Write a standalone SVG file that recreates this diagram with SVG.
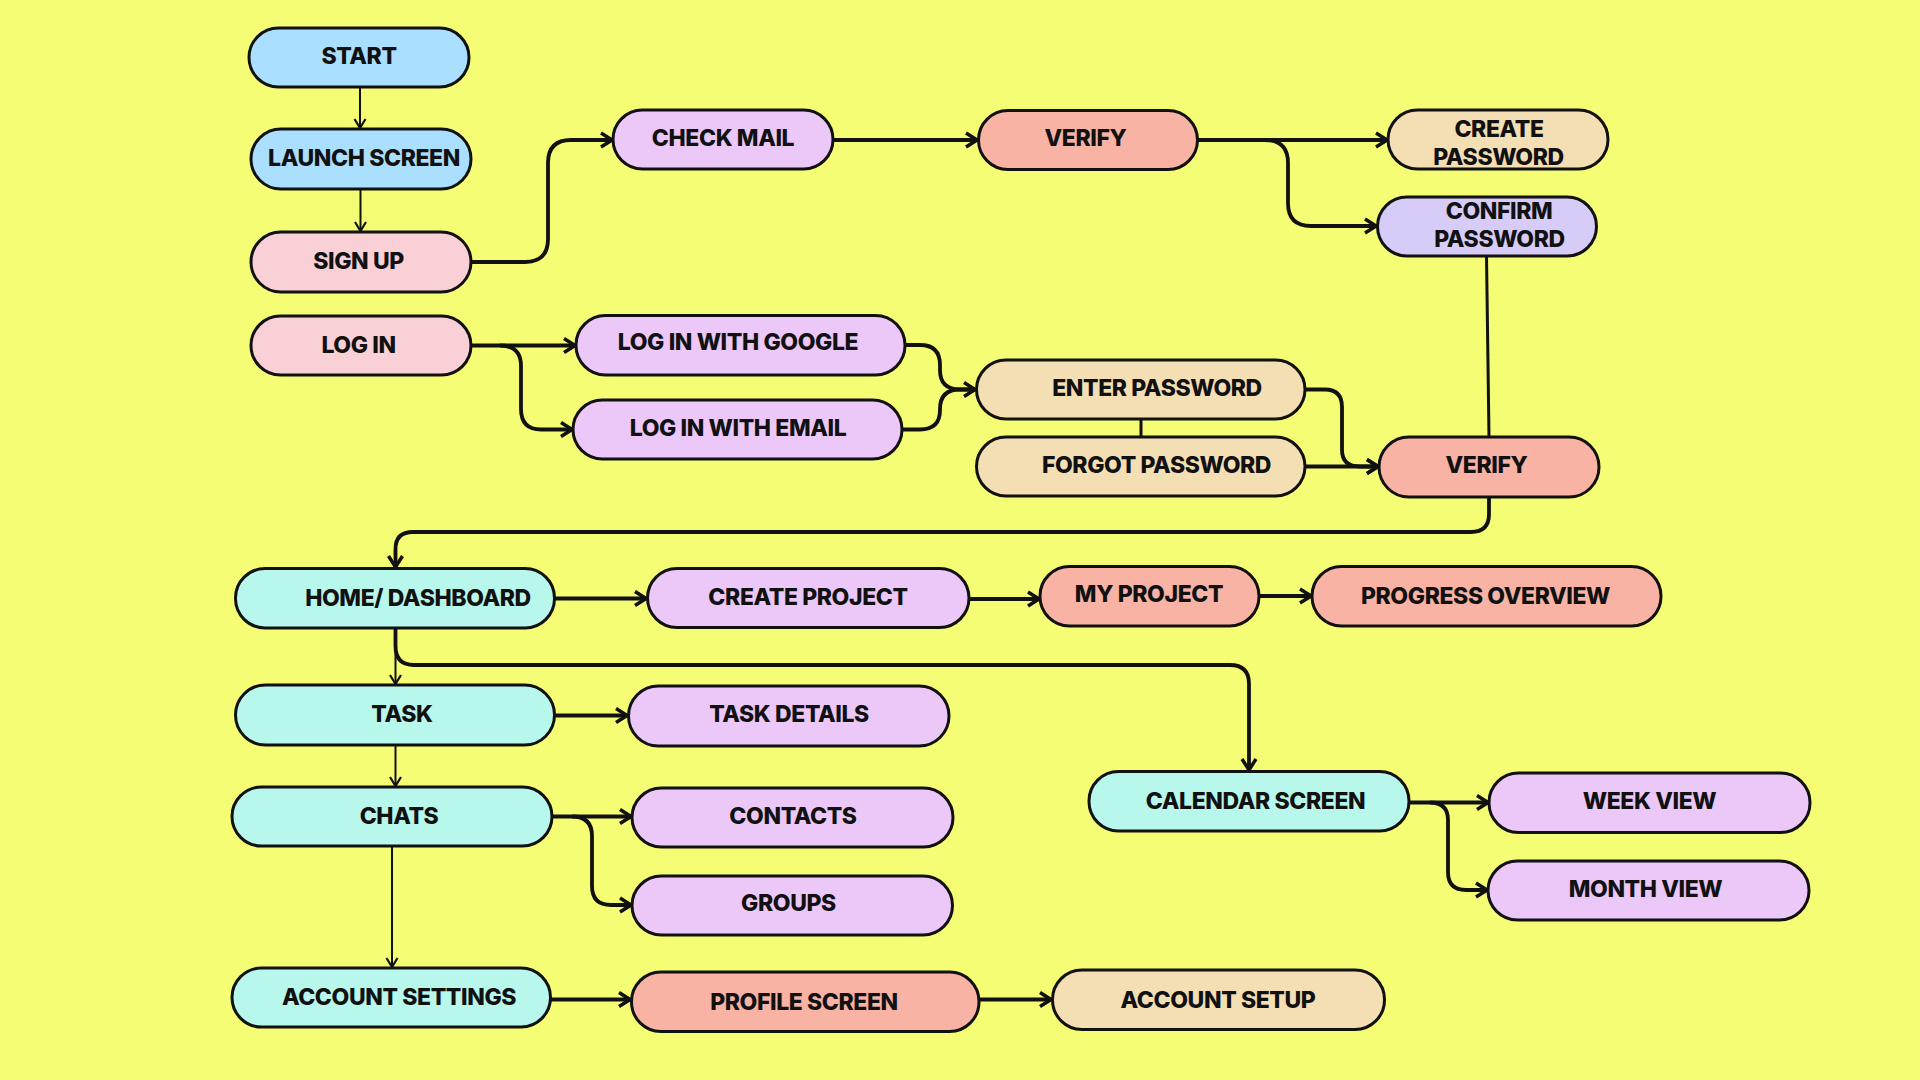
<svg xmlns="http://www.w3.org/2000/svg" width="1920" height="1080" viewBox="0 0 1920 1080">
<defs>
<style>
.n{stroke:#111;stroke-width:3}
.t{font-family:Inter,"Liberation Sans",sans-serif;font-weight:800;font-size:23px;fill:#111;text-anchor:middle;letter-spacing:-0.4px}
.c{fill:none;stroke:#111;stroke-width:3.8;stroke-linejoin:round}
.s{fill:none;stroke:#111;stroke-width:2}
.blue{fill:#ABDFFF}.pink{fill:#F8D0D6}.lav{fill:#ECC8F8}.sal{fill:#F8B3A5}.wht{fill:#F4DEB3}.vio{fill:#D7CCF7}.aqua{fill:#B8F7EC}
</style>
<marker id="ah" markerUnits="userSpaceOnUse" markerWidth="16" markerHeight="18" viewBox="0 0 16 18" refX="13" refY="9" orient="auto"><path d="M2,2 L13,9 L2,16" fill="none" stroke="#111" stroke-width="3.5"/></marker>
<marker id="ahs" markerUnits="userSpaceOnUse" markerWidth="12" markerHeight="14" viewBox="0 0 12 14" refX="10" refY="7" orient="auto"><path d="M1,1.5 L10,7 L1,12.5" fill="none" stroke="#111" stroke-width="2.2"/></marker>
</defs>
<rect width="1920" height="1080" fill="#F5FD75"/>

<g id="connectors">
<path class="s" d="M360,87 V128" marker-end="url(#ahs)"/>
<path class="s" d="M360.5,189 V231" marker-end="url(#ahs)"/>
<path class="c" d="M470,262 H525 Q548,262 548,239 V163 Q548,140 571,140 H612" marker-end="url(#ah)"/>
<path class="c" d="M470,345.5 H575" marker-end="url(#ah)"/>
<path class="c" d="M500,345.5 Q521,345.5 521,366 V409 Q521,429.5 541,429.5 H572" marker-end="url(#ah)"/>
<path class="c" d="M833,140 H977" marker-end="url(#ah)"/>
<path class="c" d="M1198,140 H1387" marker-end="url(#ah)"/>
<path class="c" d="M1265,140 Q1288,140 1288,163 V203 Q1288,226 1311,226 H1376" marker-end="url(#ah)"/>
<path class="c" d="M1486.5,256 L1489,437" style="stroke-width:3"/>
<path class="c" d="M905,345 H920 Q940,345 940,365 V370 Q940,389.5 960,389.5 H975" marker-end="url(#ah)"/>
<path class="c" d="M902,429.5 H920 Q940,429.5 940,410 V409 Q940,389.5 960,389.5 H975"/>
<path class="c" d="M1305,389.5 H1325 Q1342,389.5 1342,407 V450 Q1342,466.5 1360,466.5 H1378" marker-end="url(#ah)"/>
<path class="c" d="M1305,466.5 H1378" marker-end="url(#ah)"/>
<path class="c" d="M1141,419 V437" style="stroke-width:3"/>
<path class="c" d="M1489,497 V514 Q1489,532 1471,532 H413 Q395.5,532 395.5,549 V567" marker-end="url(#ah)"/>
<path class="c" d="M555,598.5 H646" marker-end="url(#ah)"/>
<path class="c" d="M969,599 H1039" marker-end="url(#ah)"/>
<path class="c" d="M1259,596 H1311" marker-end="url(#ah)"/>
<path class="s" d="M395.5,628 V684" marker-end="url(#ahs)"/>
<path class="c" d="M395.5,628 V646 Q395.5,665 414,665 H1230 Q1249,665 1249,684 V770" marker-end="url(#ah)"/>
<path class="c" d="M554,715.5 H627" marker-end="url(#ah)"/>
<path class="s" d="M395.5,745 V786" marker-end="url(#ahs)"/>
<path class="c" d="M552,816.5 H631" marker-end="url(#ah)"/>
<path class="c" d="M572,816.5 Q592,816.5 592,836 V886 Q592,905 611,905 H631" marker-end="url(#ah)"/>
<path class="s" d="M392,846 V967" marker-end="url(#ahs)"/>
<path class="c" d="M1409,802.5 H1488" marker-end="url(#ah)"/>
<path class="c" d="M1430,802.5 Q1448,802.5 1448,820 V872 Q1448,890 1466,890 H1487" marker-end="url(#ah)"/>
<path class="c" d="M551,999.5 H630" marker-end="url(#ah)"/>
<path class="c" d="M979,999.5 H1051" marker-end="url(#ah)"/>
</g>

<g id="start"><rect class="n blue" x="249" y="28" width="220" height="59" rx="29.5"/><text class="t" x="359" y="64">START</text></g>
<g id="launch-screen"><rect class="n blue" x="251" y="129" width="220" height="60" rx="30"/><text class="t" x="364" y="166">LAUNCH SCREEN</text></g>
<g id="sign-up"><rect class="n pink" x="251" y="232" width="220" height="60" rx="30"/><text class="t" x="358.5" y="269">SIGN UP</text></g>
<g id="log-in"><rect class="n pink" x="251" y="316" width="220" height="59" rx="29.5"/><text class="t" x="358.5" y="353">LOG IN</text></g>
<g id="check-mail"><rect class="n lav" x="613" y="110" width="220" height="59" rx="29.5"/><text class="t" x="723" y="146">CHECK MAIL</text></g>
<g id="verify-1"><rect class="n sal" x="978.5" y="110.5" width="219" height="59" rx="29.5"/><text class="t" x="1085.5" y="146">VERIFY</text></g>
<g id="create-password"><rect class="n wht" x="1388" y="110" width="220" height="59" rx="29.5"/><text class="t" x="1499" y="137">CREATE</text><text class="t" x="1498.5" y="165">PASSWORD</text></g>
<g id="confirm-password"><rect class="n vio" x="1377.5" y="197" width="219" height="59" rx="29.5"/><text class="t" x="1499" y="219">CONFIRM</text><text class="t" x="1499.5" y="247">PASSWORD</text></g>
<g id="log-in-google"><rect class="n lav" x="576" y="315.5" width="329" height="59.5" rx="29.5"/><text class="t" x="738" y="350">LOG IN WITH GOOGLE</text></g>
<g id="log-in-email"><rect class="n lav" x="573" y="400" width="329" height="59" rx="29.5"/><text class="t" x="738" y="436">LOG IN WITH EMAIL</text></g>
<g id="enter-password"><rect class="n wht" x="976.5" y="360" width="328.5" height="59" rx="29.5"/><text class="t" x="1157" y="395.5">ENTER PASSWORD</text></g>
<g id="forgot-password"><rect class="n wht" x="976.5" y="437" width="328.5" height="59" rx="29.5"/><text class="t" x="1156.5" y="473">FORGOT PASSWORD</text></g>
<g id="verify-2"><rect class="n sal" x="1379" y="437" width="220" height="60" rx="30"/><text class="t" x="1486.5" y="473">VERIFY</text></g>
<g id="home-dashboard"><rect class="n aqua" x="235.5" y="568.5" width="319" height="59.5" rx="29.5"/><text class="t" x="418" y="606">HOME/ DASHBOARD</text></g>
<g id="create-project"><rect class="n lav" x="647.5" y="568.5" width="321.5" height="59" rx="29.5"/><text class="t" x="808" y="605">CREATE PROJECT</text></g>
<g id="my-project"><rect class="n sal" x="1040" y="566.5" width="219" height="59.5" rx="29.5"/><text class="t" x="1149" y="601.5">MY PROJECT</text></g>
<g id="progress-overview"><rect class="n sal" x="1312" y="566.5" width="349" height="59.5" rx="29.5"/><text class="t" x="1485.5" y="604">PROGRESS OVERVIEW</text></g>
<g id="task"><rect class="n aqua" x="235.5" y="685" width="319" height="60" rx="30"/><text class="t" x="402" y="721.5">TASK</text></g>
<g id="task-details"><rect class="n lav" x="628.5" y="686" width="320.5" height="60" rx="30"/><text class="t" x="789" y="721.5">TASK DETAILS</text></g>
<g id="chats"><rect class="n aqua" x="232" y="787" width="320" height="59" rx="29.5"/><text class="t" x="399" y="823.5">CHATS</text></g>
<g id="contacts"><rect class="n lav" x="632" y="788" width="321" height="59" rx="29.5"/><text class="t" x="793" y="823.5">CONTACTS</text></g>
<g id="groups"><rect class="n lav" x="632" y="876" width="320.5" height="59" rx="29.5"/><text class="t" x="788.5" y="911">GROUPS</text></g>
<g id="calendar-screen"><rect class="n aqua" x="1089" y="771.5" width="320" height="59.5" rx="29.5"/><text class="t" x="1255.5" y="808.5">CALENDAR SCREEN</text></g>
<g id="week-view"><rect class="n lav" x="1489" y="773" width="321" height="59.5" rx="29.5"/><text class="t" x="1649.5" y="808.5">WEEK VIEW</text></g>
<g id="month-view"><rect class="n lav" x="1488" y="861" width="321" height="59" rx="29.5"/><text class="t" x="1645.5" y="897">MONTH VIEW</text></g>
<g id="account-settings"><rect class="n aqua" x="232" y="968" width="318.5" height="59" rx="29.5"/><text class="t" x="399" y="1004.5">ACCOUNT SETTINGS</text></g>
<g id="profile-screen"><rect class="n sal" x="631.5" y="972" width="347.5" height="59.5" rx="29.5"/><text class="t" x="804" y="1010">PROFILE SCREEN</text></g>
<g id="account-setup"><rect class="n wht" x="1052.5" y="970" width="332" height="59.5" rx="29.5"/><text class="t" x="1218" y="1007.5">ACCOUNT SETUP</text></g>
</svg>
